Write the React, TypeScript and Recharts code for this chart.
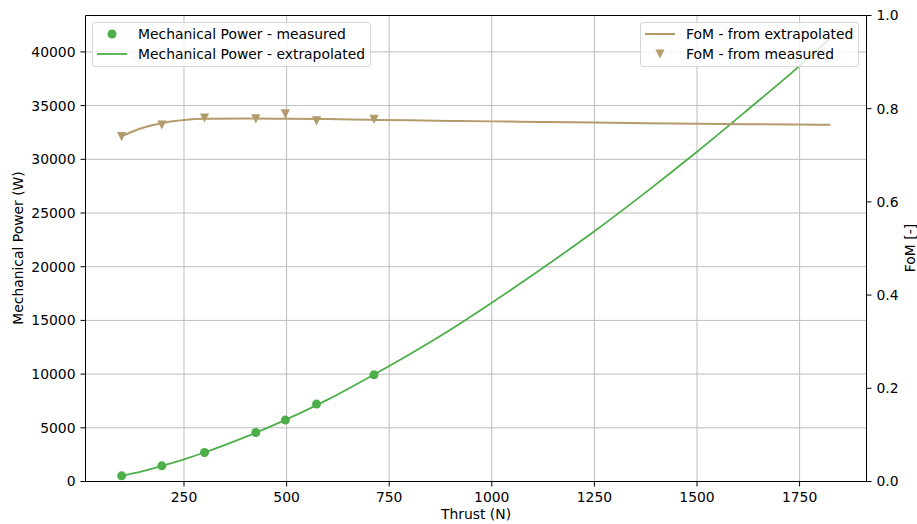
import {
  ComposedChart,
  Line,
  Scatter,
  XAxis,
  YAxis,
  CartesianGrid,
  ReferenceLine,
} from "recharts";

const FONT = "'DejaVu Sans', sans-serif";
const GREEN = "#4daf4a";
const TAN = "#b39b6c";

// measured points
const thrustMeasured = [98, 196, 300, 425, 497, 573, 713];
const powerMeasured = [530, 1460, 2700, 4560, 5720, 7210, 9940];
const fomMeasured = [0.74, 0.765, 0.78, 0.778, 0.789, 0.774, 0.777];

// extrapolated curves
const thrustFit = [
  98, 125, 150, 175, 200, 250, 300, 400, 500, 600, 700, 800, 900, 1000, 1125,
  1250, 1375, 1500, 1625, 1750, 1825,
];
const powerFit = [
  530, 750, 975, 1225, 1495, 2070, 2700, 4150, 5780, 7620, 9690, 11855, 14160,
  16650, 19900, 23300, 26920, 30700, 34660, 38700, 41300,
];
const fomFit = [
  0.741, 0.751, 0.759, 0.765, 0.77, 0.776, 0.7785, 0.779, 0.7785, 0.7778,
  0.7763, 0.775, 0.7738, 0.7728, 0.7716, 0.7704, 0.769, 0.7675, 0.7666, 0.766,
  0.7655,
];

const xTicks = [250, 500, 750, 1000, 1250, 1500, 1750];
const powerTicks = [0, 5000, 10000, 15000, 20000, 25000, 30000, 35000, 40000];
const fomTicks = [0, 0.2, 0.4, 0.6, 0.8, 1.0];

const X_DOMAIN = [10, 1913];
const P_MAX = 43390;

const measured = thrustMeasured.map((t, i) => ({
  t,
  p: powerMeasured[i],
  f: fomMeasured[i],
}));
const fit = thrustFit.map((t, i) => ({ t, p: powerFit[i], f: fomFit[i] }));

const tickStyle = { fill: "#000", fontSize: 13.9, fontFamily: FONT };

function Dot(props: any) {
  return <circle cx={props.cx} cy={props.cy} r={4.5} fill={GREEN} />;
}

function TriangleDown(props: any) {
  const { cx, cy } = props;
  const h = 4.6;
  return (
    <path
      d={`M${cx - h},${cy - h}L${cx + h},${cy - h}L${cx},${cy + h}Z`}
      fill={TAN}
    />
  );
}

function VerticalTitle({ x, y, text }: { x: number; y: number; text: string }) {
  return (
    <text
      x={x}
      y={y}
      transform={`rotate(-90, ${x}, ${y})`}
      textAnchor="middle"
      dominantBaseline="central"
      fontSize={13.9}
      fontFamily={FONT}
      fill="#000"
    >
      {text}
    </text>
  );
}

const legendBox = {
  position: "absolute" as const,
  top: 22,
  height: 45,
  border: "1px solid #d6d6d6",
  borderRadius: 3,
  background: "rgba(255,255,255,0.8)",
  boxSizing: "border-box" as const,
  fontSize: 13.9,
  fontFamily: FONT,
  color: "#000",
};

function LegendRow({
  top,
  left,
  marker,
  label,
}: {
  top: number;
  left: number;
  marker: React.ReactNode;
  label: string;
}) {
  return (
    <div
      style={{
        position: "absolute",
        top,
        left,
        height: 18,
        display: "flex",
        alignItems: "center",
        whiteSpace: "nowrap",
      }}
    >
      <svg width={30} height={18} style={{ marginRight: 11 }}>
        {marker}
      </svg>
      <span>{label}</span>
    </div>
  );
}

export default function App() {
  return (
    <div
      style={{
        position: "absolute",
        left: 0,
        top: 0,
        width: 917,
        height: 524,
        background: "#fff",
      }}
    >
      <ComposedChart
        width={917}
        height={524}
        margin={{ top: 15.5, right: 0, bottom: 0, left: 0.5 }}
      >
        <CartesianGrid
          yAxisId="p"
          stroke="#bdbdbd"
          strokeWidth={1}
          horizontalValues={powerTicks}
          verticalValues={xTicks}
        />
        <XAxis
          dataKey="t"
          type="number"
          domain={X_DOMAIN}
          allowDataOverflow
          ticks={xTicks}
          height={42.5}
          tickSize={5}
          tickMargin={6}
          tick={tickStyle}
          stroke="#000"
          label={{
            value: "Thrust (N)",
            position: "insideBottom",
            offset: 5,
            fill: "#000",
            fontSize: 13.9,
            fontFamily: FONT,
          }}
        />
        <YAxis
          yAxisId="p"
          orientation="left"
          type="number"
          domain={[0, P_MAX]}
          allowDataOverflow
          ticks={powerTicks}
          width={85}
          tickSize={5}
          tickMargin={5}
          tick={tickStyle}
          stroke="#000"
          label={{
            content: () => (
              <VerticalTitle x={18} y={248} text="Mechanical Power (W)" />
            ),
          }}
        />
        <YAxis
          yAxisId="f"
          orientation="right"
          type="number"
          domain={[0, 1]}
          allowDataOverflow
          ticks={fomTicks}
          tickFormatter={(v: number) => v.toFixed(1)}
          width={50.5}
          tickSize={5}
          tickMargin={5}
          tick={tickStyle}
          stroke="#000"
          label={{
            content: () => <VerticalTitle x={910} y={248} text="FoM [-]" />,
          }}
        />
        <ReferenceLine yAxisId="p" y={P_MAX} stroke="#000" strokeWidth={1} />

        <Line
          yAxisId="p"
          data={fit}
          dataKey="p"
          type="monotone"
          stroke={GREEN}
          strokeWidth={1.8}
          dot={false}
          activeDot={false}
          isAnimationActive={false}
        />
        <Scatter
          yAxisId="p"
          data={measured}
          dataKey="p"
          shape={Dot}
          fill={GREEN}
          isAnimationActive={false}
        />
        <Line
          yAxisId="f"
          data={fit}
          dataKey="f"
          type="monotone"
          stroke={TAN}
          strokeWidth={2}
          dot={false}
          activeDot={false}
          isAnimationActive={false}
        />
        <Scatter
          yAxisId="f"
          data={measured}
          dataKey="f"
          shape={TriangleDown}
          fill={TAN}
          isAnimationActive={false}
        />
      </ComposedChart>

      <div style={{ ...legendBox, left: 92, width: 279 }}>
        <LegendRow
          top={2}
          left={4}
          marker={<circle cx={15} cy={9} r={4.5} fill={GREEN} />}
          label="Mechanical Power - measured"
        />
        <LegendRow
          top={22}
          left={4}
          marker={
            <line x1={0} y1={9} x2={30} y2={9} stroke={GREEN} strokeWidth={1.8} />
          }
          label="Mechanical Power - extrapolated"
        />
      </div>

      <div style={{ ...legendBox, left: 640, width: 219 }}>
        <LegendRow
          top={2}
          left={4}
          marker={
            <line x1={0} y1={9} x2={30} y2={9} stroke={TAN} strokeWidth={2} />
          }
          label="FoM - from extrapolated"
        />
        <LegendRow
          top={22}
          left={4}
          marker={<path d="M10.4,4.4L19.6,4.4L15,13.6Z" fill={TAN} />}
          label="FoM - from measured"
        />
      </div>
    </div>
  );
}
